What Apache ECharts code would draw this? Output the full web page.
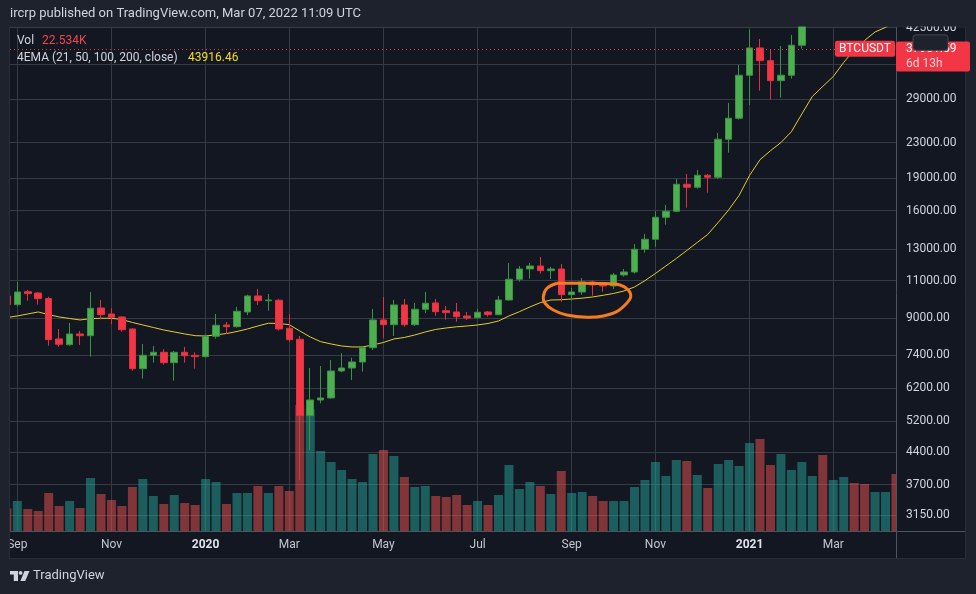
<!DOCTYPE html>
<html>
<head>
<meta charset="utf-8">
<title>BTCUSDT weekly</title>
<script src="https://cdn.jsdelivr.net/npm/echarts@6/dist/echarts.min.js"></script>
<style>
html, body { margin: 0; padding: 0; background: #1e222d; }
#chart { width: 976px; height: 594px; }
</style>
</head>
<body>
<div id="chart"></div>
<script>
// weekly candles, index 0 = week of 2019-09-02, first candle is index -1
var opens = [10140, 9680, 10374, 10302, 10000, 8058, 7816, 8277, 8201, 9509, 9209, 9063, 8500, 6876, 7385, 7505, 7099, 7505, 7385, 7331,
	8175, 8683, 8605, 9308, 10139, 9887, 9909, 8532, 8045, 5349, 5817, 5880, 6791, 6901, 7126, 7691, 8919, 8697, 9663, 8697,
	9443, 9767, 9373, 9308, 9111, 9029, 9308, 9175, 9924, 11084, 11712, 11901, 11606, 11712, 10209, 10357, 10926, 10810, 10695, 11342,
	11525, 13011, 13725, 15437, 15940, 18412, 18121, 19320, 19114, 23416, 26196, 32964, 38138, 35638, 32027, 32964, 38690];
var closes = [9680, 10357, 10264, 9994, 8028, 7833, 8277, 8201, 9494, 9175, 9048, 8468, 6876, 7385, 7505, 7099, 7505, 7370, 7331, 8175,
	8670, 8605, 9343, 10139, 9887, 9924, 8500, 8028, 5349, 5817, 5880, 6791, 6901, 7126, 7691, 8919, 8697, 9663, 8697, 9443,
	9751, 9323, 9273, 9077, 9014, 9293, 9175, 9924, 11084, 11712, 11901, 11606, 11712, 10209, 10357, 10926, 10753, 10695, 11342, 11525,
	13011, 13725, 15437, 15940, 18412, 18121, 19320, 19114, 23416, 26196, 32964, 38138, 35638, 32027, 32964, 38690, 47169];
var lows = [9320, 9600, 9887, 9679, 7774, 7733, 7774, 7804, 7331, 8952, 8716, 8378, 6802, 6518, 7099, 7024, 6449, 7099, 6876, 7300,
	8070, 8277, 8559, 9145, 9663, 9373, 8423, 7950, 3794, 4453, 5715, 5860, 6750, 6473, 6766, 7600, 8101, 8188, 8605, 8637,
	9258, 9111, 8933, 8838, 8919, 8981, 9077, 9145, 9887, 10943, 11120, 11422, 11103, 9834, 9887, 10209, 10155, 10374, 10525, 11239,
	11430, 12777, 13194, 14838, 15870, 16249, 17985, 17606, 18941, 21799, 26000, 28126, 30358, 28935, 29245, 32370, 38000];
var highs = [10620, 10943, 10469, 10357, 10100, 8500, 8777, 8410, 10357, 9924, 9494, 9100, 8530, 7845, 7762, 7626, 7560, 7721, 7505, 8250,
	9209, 8824, 9560, 10209, 10525, 10247, 9977, 9209, 8188, 6901, 6975, 7203, 7466, 7292, 7762, 9459, 10085, 9924, 9977, 9767,
	10357, 9977, 9611, 9767, 9308, 9459, 9360, 10139, 12093, 11901, 12093, 12487, 11838, 12029, 10581, 11162, 11002, 10926, 11464, 11712,
	13385, 14119, 15940, 16486, 18941, 19455, 19875, 19455, 24218, 28428, 34828, 42053, 40017, 37733, 38545, 40882, 48216];

// yellow EMA line, index -1 .. 84
var ema21 = [9038, 9111, 9209, 9308, 9175, 9063, 8990, 8919, 8981, 9000, 9000, 8942, 8800, 8683, 8568, 8455, 8365, 8277, 8201, 8188,
	8240, 8293, 8387, 8500, 8637, 8763, 8754, 8697, 8410, 8144, 7942, 7845, 7762, 7721, 7721, 7804, 7909, 8058, 8123, 8232,
	8365, 8478, 8545, 8600, 8637, 8683, 8754, 8871, 9111, 9323, 9560, 9782, 9924, 9935, 9977, 10020, 10085, 10176, 10275, 10413,
	10638, 11002, 11434, 11901, 12388, 12928, 13493, 14082, 15015, 16051, 17344, 19300, 21000, 22022, 23008, 24374, 26806, 29433, 31047, 32734,
	35294, 37733, 39697, 41541, 42551, 44288];

// volume (thousand BTC), index -1 .. 84, with up(1)/down(0) colour
var volumes = [136, 180, 132, 120, 228, 150, 180, 138, 318, 222, 186, 150, 264, 312, 210, 162, 216, 168, 156, 312,
	294, 162, 228, 228, 270, 228, 270, 240, 756, 732, 480, 414, 366, 312, 294, 462, 486, 450, 324, 264,
	270, 210, 204, 216, 156, 180, 156, 216, 396, 252, 294, 270, 222, 360, 228, 234, 210, 180, 180, 180,
	264, 306, 414, 330, 426, 420, 336, 258, 402, 426, 390, 528, 552, 396, 462, 366, 414, 330, 456, 306,
	324, 288, 282, 234, 234, 342];
var volUp = [0, 1, 0, 0, 0, 0, 1, 0, 1, 0, 0, 0, 0, 1, 1, 0, 1, 0, 0, 1,
	1, 0, 1, 1, 0, 1, 0, 0, 0, 1, 1, 1, 1, 1, 1, 1, 0, 1, 0, 1,
	1, 0, 0, 0, 0, 1, 0, 1, 1, 1, 1, 0, 1, 0, 1, 1, 0, 0, 1, 1,
	1, 1, 1, 1, 1, 0, 1, 0, 1, 1, 1, 1, 0, 0, 1, 1, 1, 1, 0, 1,
	1, 0, 0, 1, 1, 0];

var timeTicks = [0, 9, 18, 26, 35, 44, 53, 61, 70, 78];
var timeLabels = ['Sep', 'Nov', '2020', 'Mar', 'May', 'Jul', 'Sep', 'Nov', '2021', 'Mar'];
var priceTicks = [3150, 3700, 4400, 5200, 6200, 7400, 9000, 11000, 13000, 16000, 19000, 23000, 29000, 35000, 42500];
var lastPrice = 37951.59;

var FONT = 'Roboto, "Noto Sans", sans-serif';
var ln = Math.log;

var chart = echarts.init(document.getElementById('chart'));

var candleData = opens.map(function (o, k) {
	return [k - 1, ln(o), ln(closes[k]), ln(lows[k]), ln(highs[k])];
});
var emaData = ema21.map(function (v, k) {
	return [k - 1, ln(v)];
});
var volData = volumes.map(function (v, k) {
	return {
		value: [k - 1, v],
		itemStyle: { color: volUp[k] ? 'rgba(38,166,154,0.5)' : 'rgba(239,83,80,0.5)' }
	};
});

var option = {
	backgroundColor: '#1e222d',
	animation: false,
	textStyle: { fontFamily: FONT },
	grid: { left: 10, top: 27, width: 886, height: 504 },
	xAxis: [{
		type: 'value',
		min: -0.7,
		max: 84,
		axisLine: { show: false },
		axisTick: { show: false, customValues: timeTicks },
		axisLabel: {
			customValues: timeTicks,
			margin: 8,
			color: '#c3c6ce',
			fontSize: 12,
			fontFamily: FONT,
			formatter: function (v) {
				var s = timeLabels[timeTicks.indexOf(Math.round(v))];
				return /^\d{4}$/.test(s) ? '{y|' + s + '}' : s;
			},
			rich: { y: { fontWeight: 'bold', color: '#e0e3eb', fontSize: 12, fontFamily: FONT } }
		},
		splitLine: { show: true, lineStyle: { color: '#363a45', width: 1 } }
	}],
	yAxis: [{
		type: 'value',
		position: 'right',
		min: ln(2889),
		max: ln(42650),
		axisLine: { show: false },
		axisTick: { show: false, customValues: priceTicks.map(ln) },
		axisLabel: {
			customValues: priceTicks.map(ln),
			margin: 10,
			color: '#d1d4dc',
			fontSize: 12,
			fontFamily: FONT,
			formatter: function (v) {
				return Math.round(Math.exp(v)).toFixed(2);
			}
		},
		splitLine: { show: true, lineStyle: { color: '#363a45', width: 1 } }
	}, {
		type: 'value',
		show: false,
		min: 0,
		max: 3024,
		splitLine: { show: false }
	}],
	series: [
		{
			name: 'Vol',
			type: 'bar',
			yAxisIndex: 1,
			barWidth: 9,
			clip: true,
			data: volData,
			z: 1
		},
		{
			name: '4EMA',
			type: 'line',
			data: emaData,
			showSymbol: false,
			lineStyle: { color: '#e3cd2e', width: 1 },
			z: 2
		},
		{
			name: 'BTCUSDT',
			type: 'candlestick',
			data: candleData,
			barWidth: 7,
			clip: true,
			itemStyle: {
				color: '#4caf50',
				color0: '#f23645',
				borderColor: '#3d9142',
				borderColor0: '#e0323f',
				borderWidth: 1
			},
			markLine: {
				silent: true,
				symbol: ['none', 'none'],
				label: { show: false },
				lineStyle: { color: '#f23645', type: [1, 3], width: 1 },
				data: [{ yAxis: ln(lastPrice) }]
			},
			z: 3
		}
	]
};
chart.setOption(option);

// overlays placed from the chart's own scales
var py = chart.convertToPixel({ yAxisIndex: 0 }, ln(lastPrice));
var ex = chart.convertToPixel({ xAxisIndex: 0 }, 54.46);
var ey = chart.convertToPixel({ yAxisIndex: 0 }, ln(9924));

// hand drawn ring round the Sep 2020 consolidation
var ring = [[-30, -16.7], [-40, -11.7], [-43.7, -3.3], [-42, 3.3], [-33.7, 10], [-20.3, 15], [-0.3, 17.3], [16.3, 16],
	[29.7, 11.7], [39.7, 3.3], [43.7, -3.3], [41.3, -10], [33, -15], [13, -16.5], [-12, -16.7], [-30, -16.7]];

function txt(id, x, y, s, color, size, align, weight) {
	return {
		type: 'text', id: id, x: x, y: y, z: 60, silent: true,
		style: {
			text: s, fill: color,
			font: (weight || 'normal') + ' ' + size + 'px ' + FONT,
			textAlign: align || 'left', align: align || 'left',
			textVerticalAlign: 'middle', verticalAlign: 'middle'
		}
	};
}

function cover(id, x, y, w, h, fill) {
	return { type: 'rect', id: id, z: 20, silent: true,
		shape: { x: x, y: y, width: w, height: h }, style: { fill: fill } };
}

chart.setOption({
	graphic: { elements: [
		{ type: 'rect', id: 'panel', z: -10, silent: true,
			shape: { x: 9.5, y: 27, width: 956, height: 531.5 },
			style: { fill: '#131722', stroke: '#2a2e39', lineWidth: 1 } },
		// keep marks inside the pane (left edge, top edge, price-scale edge)
		cover('clipL', 0, 20, 9, 545, '#1e222d'),
		cover('clipT', 0, 0, 976, 26.5, '#1e222d'),
		cover('clipR', 897, 27, 6, 504, '#131722'),
		{ type: 'line', id: 'edgeL', z: 21, silent: true,
			shape: { x1: 9.5, y1: 27, x2: 9.5, y2: 558.5 },
			style: { stroke: '#2a2e39', lineWidth: 1 } },
		{ type: 'line', id: 'sepV', z: 21, silent: true,
			shape: { x1: 896.5, y1: 27, x2: 896.5, y2: 558 },
			style: { stroke: '#50535e', lineWidth: 1 } },
		{ type: 'line', id: 'sepH', z: 21, silent: true,
			shape: { x1: 10, y1: 531.5, x2: 965, y2: 531.5 },
			style: { stroke: '#50535e', lineWidth: 1 } },
		txt('head', 10, 14, 'ircrp published on TradingView.com, Mar 07, 2022 11:09 UTC', '#d1d4dc', 13),
		txt('volT', 17, 41, 'Vol', '#d1d4dc', 12),
		txt('volV', 42, 41, '22.534K', '#f0464f', 12),
		txt('emaT', 17, 58, '4EMA (21, 50, 100, 200, close)', '#d1d4dc', 12),
		txt('emaV', 188, 58, '43916.46', '#f3dc26', 12),
		{ type: 'polyline', id: 'ring', z: 40, silent: true,
			shape: { points: ring.map(function (p) { return [ex + p[0], ey + p[1]]; }), smooth: 0.35 },
			style: { stroke: '#f57c1f', lineWidth: 3, fill: null } },
		{ type: 'rect', id: 'tag', z: 50, silent: true,
			shape: { x: 835, y: py - 8, width: 60, height: 16, r: 2 },
			style: { fill: '#f23645' } },
		txt('tagT', 865, py, 'BTCUSDT', '#ffffff', 12, 'center'),
		{ type: 'rect', id: 'pbox', z: 50, silent: true,
			shape: { x: 896, y: py - 7.3, width: 74, height: 30, r: 2 },
			style: { fill: '#f23645' } },
		txt('pboxV', 906, py + 0.5, lastPrice.toFixed(2), '#ffffff', 12),
		txt('pboxT', 906, py + 15, '6d 13h', '#fcd3d7', 12),
		{ type: 'rect', id: 'unit', z: 70, silent: true,
			shape: { x: 913, y: py - 14, width: 35, height: 15.5, r: 3 },
			style: { fill: '#1e222d', stroke: '#434651', lineWidth: 1 } },
		txt('unitT', 930.5, py - 6.2, 'USDT', '#d1d4dc', 12, 'center'),
		{ type: 'polygon', id: 'logoA', z: 60, silent: true,
			shape: { points: [[10, 571], [18, 571], [18, 581], [13.8, 581], [13.8, 574.6], [10, 574.6]] },
			style: { fill: '#d1d4dc' } },
		{ type: 'circle', id: 'logoB', z: 60, silent: true,
			shape: { cx: 20.6, cy: 572.9, r: 1.9 },
			style: { fill: '#d1d4dc' } },
		{ type: 'polygon', id: 'logoC', z: 60, silent: true,
			shape: { points: [[24.5, 571], [29.5, 571], [25.2, 581], [20.4, 581]] },
			style: { fill: '#d1d4dc' } },
		txt('logoT', 33, 576, 'TradingView', '#d1d4dc', 13)
	] }
});
</script>
</body>
</html>
